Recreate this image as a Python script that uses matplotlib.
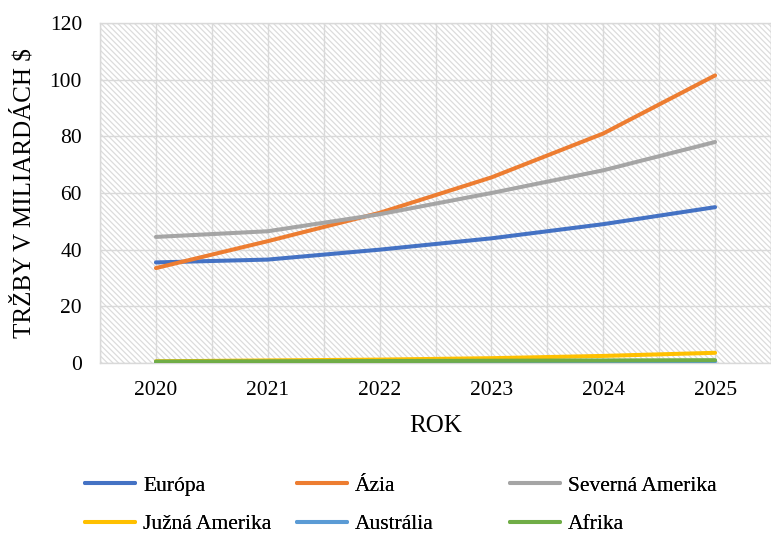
import matplotlib
matplotlib.use("Agg")
import matplotlib.pyplot as plt
from matplotlib.patches import Rectangle

plt.rcParams['font.family'] = ['Liberation Serif', 'DejaVu Serif']
plt.rcParams['hatch.linewidth'] = 0.9
plt.rcParams['hatch.color'] = '#dcdcdc'

years = ['2020', '2021', '2022', '2023', '2024', '2025']
europa = [35.5, 36.5, 40.0, 44.0, 49.0, 55.0]
azia = [33.5, 43.0, 53.0, 65.5, 81.0, 101.5]
sev_amerika = [44.5, 46.5, 52.5, 60.0, 68.0, 78.0]
juz_amerika = [0.6, 0.9, 1.2, 1.7, 2.5, 3.6]
australia = [0.3, 0.35, 0.4, 0.45, 0.5, 0.55]
afrika = [0.5, 0.6, 0.7, 0.8, 0.9, 1.0]

series = [
    ('Európa', europa, '#4472C4'),
    ('Ázia', azia, '#ED7D31'),
    ('Severná Amerika', sev_amerika, '#A5A5A5'),
    ('Južná Amerika', juz_amerika, '#FFC000'),
    ('Austrália', australia, '#5B9BD5'),
    ('Afrika', afrika, '#70AD47'),
]

fig = plt.figure(figsize=(7.71, 5.37), dpi=100)
ax = fig.add_axes([100/771, 1-363/537, 1-100/771, 340/537])

ax.add_patch(Rectangle((0, 0), 1, 1, transform=ax.transAxes, facecolor='white',
                       edgecolor='#dcdcdc', hatch='\\' * 6, lw=0, zorder=0))

x = list(range(len(years)))
handles = {}
for name, vals, col in series:
    h, = ax.plot(x, vals, color=col, lw=2.9, solid_capstyle='round', zorder=3, label=name)
    handles[name] = h

ax.set_xlim(-0.5, 5.38)
ax.set_ylim(0, 120)
ax.set_yticks(range(0, 121, 20))
ax.set_xticks(x)
ax.set_xticklabels(years)
ax.set_xticks([i + 0.5 for i in range(-1, 6)], minor=True)
ax.grid(True, which='major', axis='y', color='#d9d9d9', lw=1.0, zorder=1)
ax.grid(True, which='both', axis='x', color='#d9d9d9', lw=1.0, zorder=1)
ax.tick_params(axis='both', which='both', length=0, labelsize=15.5)
ax.tick_params(axis='y', pad=13)
ax.tick_params(axis='x', pad=13)
for s in ax.spines.values():
    s.set_color('#d9d9d9')
    s.set_linewidth(1.0)
ax.set_axisbelow(True)

ax.set_xlabel('ROK', fontsize=18, labelpad=11)
ax.set_ylabel('TRŽBY V MILIARDÁCH $', fontsize=18, labelpad=10)

cols = [['Európa', 'Južná Amerika'], ['Ázia', 'Austrália'], ['Severná Amerika', 'Afrika']]
xs = [85, 297, 510]
for names, x0 in zip(cols, xs):
    leg = fig.legend([handles[n] for n in names], names, loc='center left',
                     bbox_to_anchor=(x0/771, 1-505/537), frameon=False, fontsize=15.5,
                     handlelength=2.3, handletextpad=0.4, borderpad=0,
                     borderaxespad=0, labelspacing=0.85)
    fig.add_artist(leg)

fig.savefig('out.png', dpi=100)
